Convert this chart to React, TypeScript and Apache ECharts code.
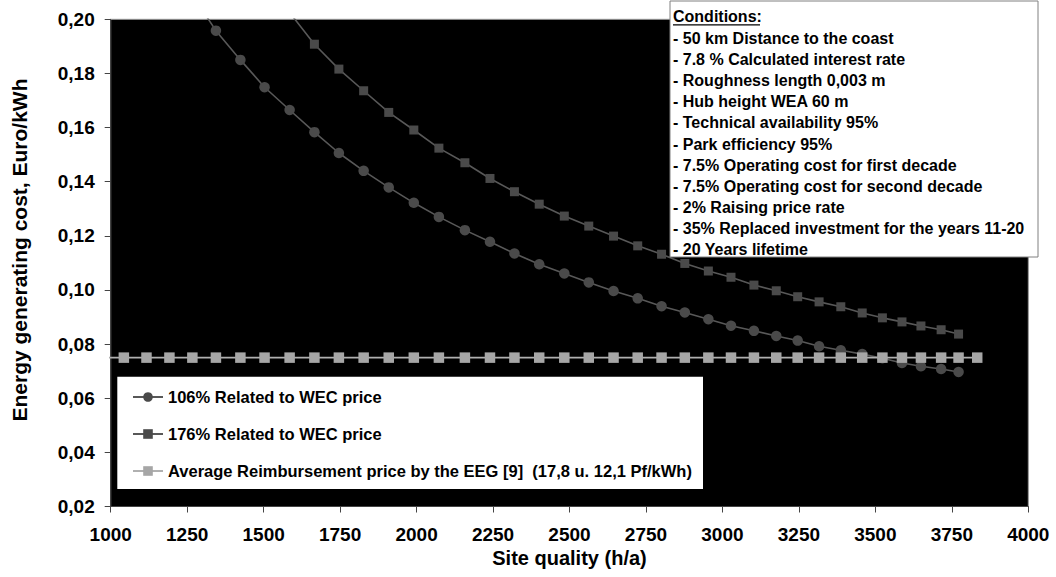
import React, { useEffect, useRef } from "react";
import * as echarts from "echarts";

// Site quality (h/a) — shared x grid of all series
const siteQuality = [968, 1043, 1117, 1192, 1267, 1344, 1424, 1503, 1585, 1666, 1746, 1827, 1909, 1991, 2073, 2158, 2240, 2320, 2401, 2483, 2563, 2644, 2723, 2801, 2877, 2954, 3028, 3103, 3176, 3246, 3316, 3387, 3457, 3523, 3587, 3649, 3715, 3772, 3833];

// 106% related to WEC price (starts at siteQuality[4])
const cost106 = [0.209, 0.1958, 0.185, 0.1749, 0.1665, 0.1583, 0.1506, 0.144, 0.1379, 0.1322, 0.127, 0.1221, 0.1178, 0.1135, 0.1095, 0.1061, 0.1028, 0.0996, 0.0969, 0.094, 0.0917, 0.0892, 0.0868, 0.0849, 0.083, 0.0813, 0.0792, 0.0777, 0.0763, 0.0748, 0.073, 0.0718, 0.0708, 0.0697];
const start106 = 4;

// 176% related to WEC price (starts at siteQuality[8])
const cost176 = [0.2025, 0.1908, 0.1816, 0.1736, 0.1656, 0.1591, 0.1524, 0.147, 0.1412, 0.1363, 0.1317, 0.1273, 0.1236, 0.1199, 0.1163, 0.1132, 0.1098, 0.107, 0.1047, 0.1018, 0.0997, 0.0975, 0.0956, 0.0938, 0.0915, 0.0897, 0.0882, 0.0867, 0.0853, 0.0837];
const start176 = 8;

// Average reimbursement price by the EEG
const eegPrice = [0.075, 0.075, 0.075, 0.075, 0.075, 0.075, 0.075, 0.075, 0.075, 0.075, 0.075, 0.075, 0.075, 0.075, 0.075, 0.075, 0.075, 0.075, 0.075, 0.075, 0.075, 0.075, 0.075, 0.075, 0.075, 0.075, 0.075, 0.075, 0.075, 0.075, 0.075, 0.075, 0.075, 0.075, 0.075, 0.075, 0.075, 0.075, 0.075];

const seriesNames = [
  "106% Related to WEC price",
  "176% Related to WEC price",
  "Average Reimbursement price by the EEG [9]  (17,8 u. 12,1 Pf/kWh)",
];

const conditionsTitle = "Conditions:";
const conditions = [
  "- 50 km Distance to the coast",
  "- 7.8 % Calculated interest rate",
  "- Roughness length 0,003 m",
  "- Hub height WEA 60 m",
  "- Technical availability 95%",
  "- Park efficiency 95%",
  "- 7.5% Operating cost for first decade",
  "- 7.5% Operating cost for second decade",
  "- 2% Raising price rate",
  "- 35% Replaced investment for the years 11-20",
  "- 20 Years lifetime",
];

const xTitle = "Site quality (h/a)";
const yTitle = "Energy generating cost, Euro/kWh";

const FONT = "'Liberation Sans', Arial, Helvetica, sans-serif";

export default function App() {
  const ref = useRef<HTMLDivElement>(null);

  useEffect(() => {
    if (!ref.current) return;
    const chart = echarts.init(ref.current, undefined, { renderer: "svg" });

    const pairs = (vals: number[], start: number) =>
      vals.map((v, i) => [siteQuality[start + i], v]);

    const condFont = `bold 16px ${FONT}`;
    const condTexts: any[] = [];
    condTexts.push({
      type: "text",
      x: 673,
      y: 16,
      z: 101,
      style: {
        text: conditionsTitle,
        fill: "#000",
        font: condFont,
        verticalAlign: "middle",
        textVerticalAlign: "middle",
      },
    });
    condTexts.push({
      type: "line",
      z: 101,
      shape: { x1: 673, y1: 24.8, x2: 760, y2: 24.8 },
      style: { stroke: "#000", lineWidth: 1.2 },
    });
    conditions.forEach((t, i) => {
      condTexts.push({
        type: "text",
        x: 673,
        y: 38.5 + i * 21.1,
        z: 101,
        style: {
          text: t,
          fill: "#000",
          font: condFont,
          verticalAlign: "middle",
          textVerticalAlign: "middle",
        },
      });
    });

    chart.setOption({
      animation: false,
      textStyle: { fontFamily: FONT },
      grid: {
        left: 110.7,
        right: 27.7,
        top: 19.3,
        bottom: 70.5,
        show: true,
        backgroundColor: "#000",
        borderColor: "#999",
        borderWidth: 1,
      },
      xAxis: {
        type: "value",
        min: 1000,
        max: 4000,
        interval: 250,
        axisLine: { show: true, onZero: false, lineStyle: { color: "#444", width: 1 } },
        axisTick: { show: true, length: 6, lineStyle: { color: "#444" } },
        splitLine: { show: false },
        axisLabel: {
          fontSize: 19,
          fontWeight: "bold",
          color: "#000",
          margin: 18,
          fontFamily: FONT,
          formatter: (v: number) => String(v),
        },
        name: xTitle,
        nameLocation: "middle",
        nameGap: 40,
        nameTextStyle: { fontSize: 20, fontWeight: "bold", color: "#000", fontFamily: FONT },
      },
      yAxis: {
        type: "value",
        min: 0.02,
        max: 0.2,
        interval: 0.02,
        axisLine: { show: true, onZero: false, lineStyle: { color: "#444", width: 1 } },
        axisTick: { show: true, length: 6, lineStyle: { color: "#444" } },
        splitLine: { show: false },
        axisLabel: {
          fontSize: 19,
          fontWeight: "bold",
          color: "#000",
          margin: 16,
          fontFamily: FONT,
          formatter: (v: number) => v.toFixed(2).replace(".", ","),
        },
      },
      legend: {
        orient: "vertical",
        left: 132,
        top: 388.5,
        padding: 0,
        itemWidth: 30,
        itemHeight: 12,
        itemGap: 20,
        z: 102,
        data: seriesNames,
        textStyle: {
          fontSize: 16.5,
          fontWeight: "bold",
          color: "#000",
          fontFamily: FONT,
          lineHeight: 16,
        },
      },
      graphic: [
        {
          type: "text",
          x: 19,
          y: 250,
          rotation: Math.PI / 2,
          style: {
            text: yTitle,
            fill: "#000",
            font: `bold 21px ${FONT}`,
            align: "center",
            verticalAlign: "middle",
            textAlign: "center",
            textVerticalAlign: "middle",
          },
        },
        {
          type: "rect",
          z: 100,
          shape: { x: 670, y: 1, width: 368, height: 256 },
          style: { fill: "#fff", stroke: "#808080", lineWidth: 1 },
        },
        ...condTexts,
        {
          type: "rect",
          z: 100,
          shape: { x: 117.3, y: 376.7, width: 585.7, height: 112.3 },
          style: { fill: "#fff", stroke: "#fff", lineWidth: 0 },
        },
      ],
      series: [
        {
          name: seriesNames[0],
          type: "line",
          data: pairs(cost106, start106),
          symbol: "circle",
          symbolSize: 10.5,
          itemStyle: { color: "#4a4a4a" },
          lineStyle: { color: "#585858", width: 1.6 },
          clip: true,
          z: 2,
        },
        {
          name: seriesNames[1],
          type: "line",
          data: pairs(cost176, start176),
          symbol: "rect",
          symbolSize: 9,
          itemStyle: { color: "#4a4a4a" },
          lineStyle: { color: "#585858", width: 1.6 },
          clip: true,
          z: 3,
        },
        {
          name: seriesNames[2],
          type: "line",
          data: pairs(eegPrice, 0),
          symbol: "rect",
          symbolSize: 10.5,
          itemStyle: { color: "#a6a6a6" },
          lineStyle: { color: "#b0b0b0", width: 1.6 },
          clip: true,
          z: 4,
        },
      ],
    });

    return () => chart.dispose();
  }, []);

  return (
    <div
      ref={ref}
      style={{ position: "fixed", left: 0, top: 0, width: 1056, height: 577, background: "#fff" }}
    />
  );
}
